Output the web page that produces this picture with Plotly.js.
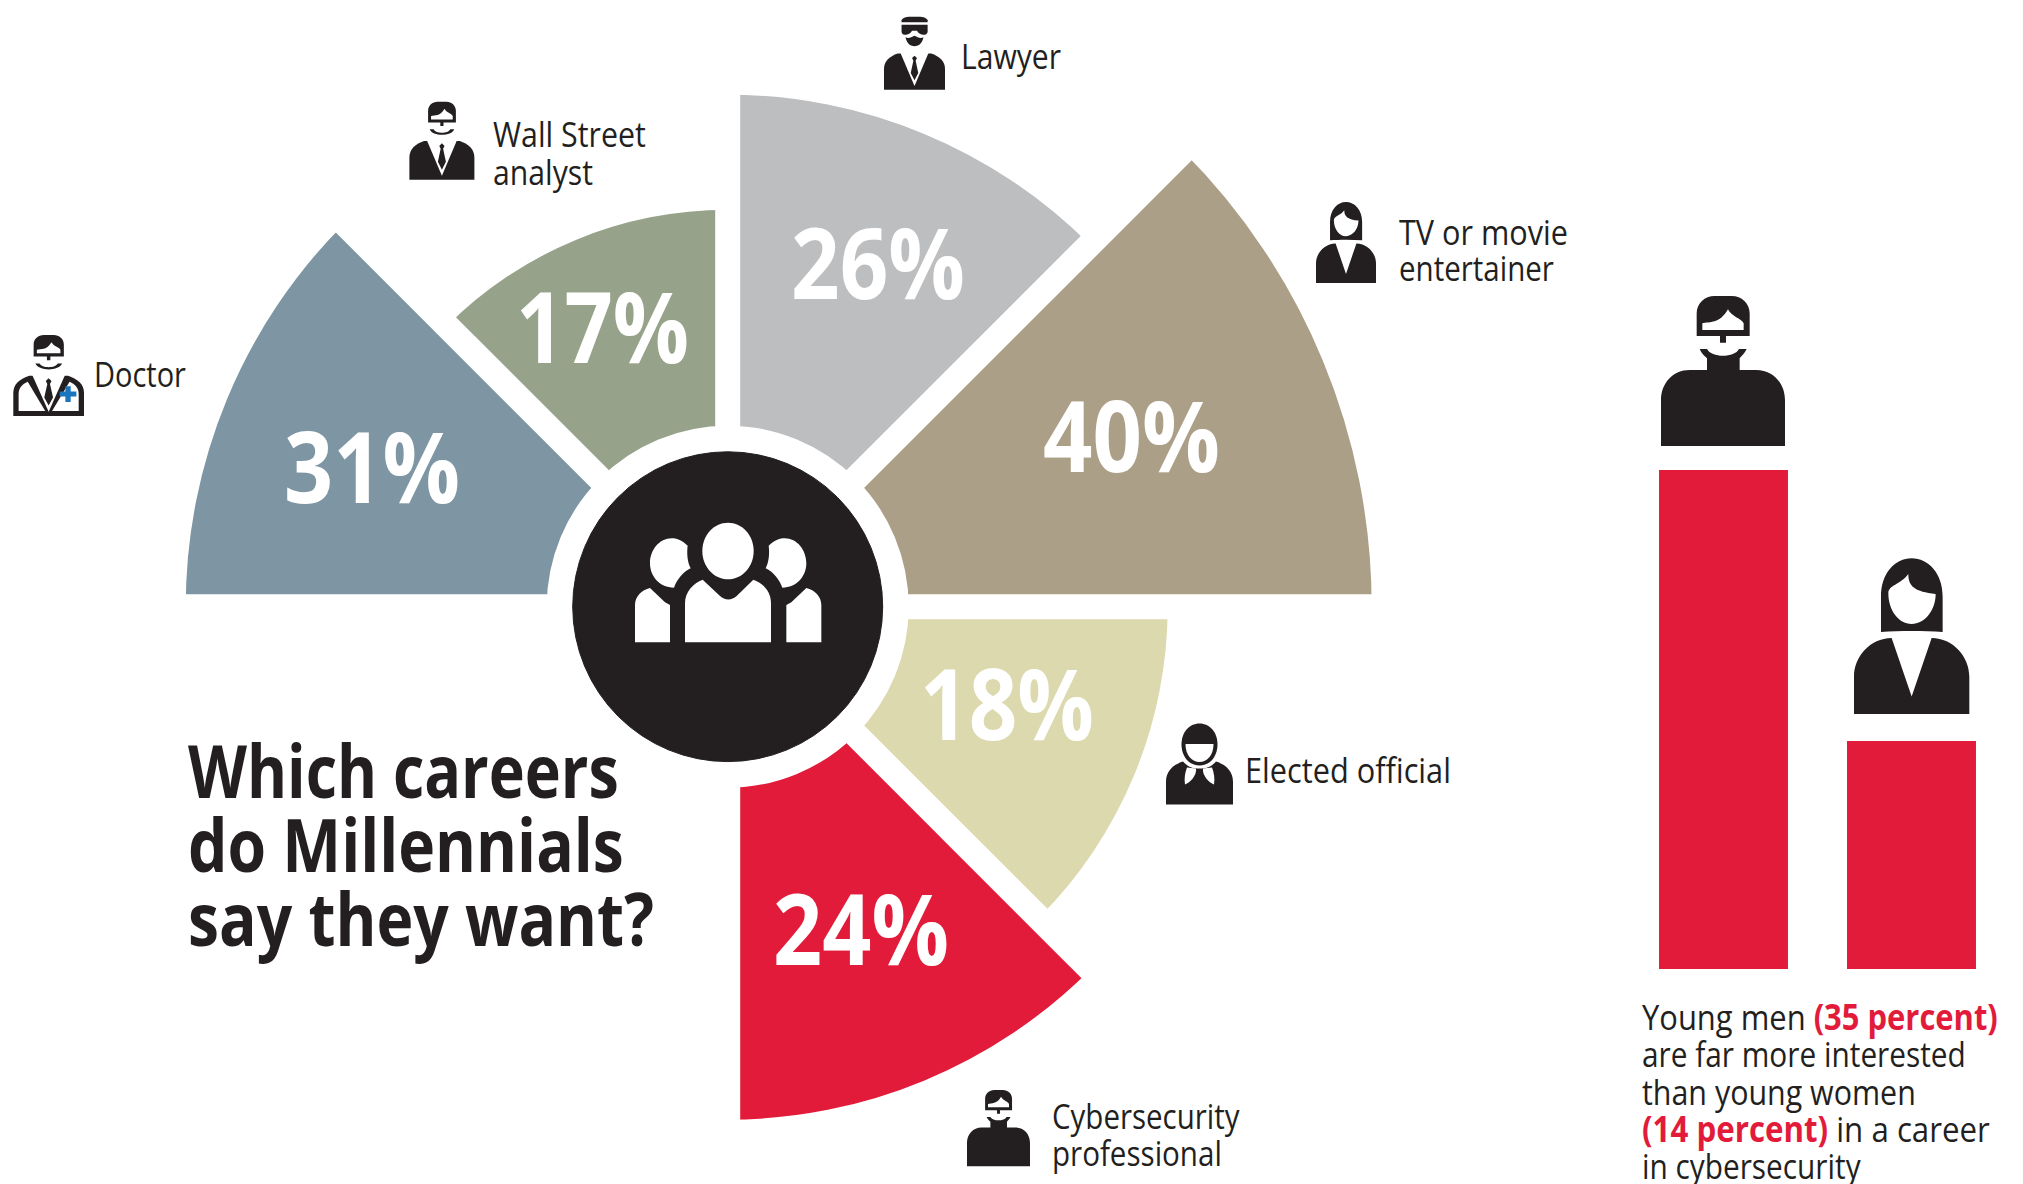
<!DOCTYPE html>
<html><head><meta charset="utf-8">
<script src="https://cdn.plot.ly/plotly-3.0.1.min.js"></script>
<style>html,body{margin:0;padding:0;background:#fff;overflow:hidden;width:2023px;height:1184px}
#c{position:absolute;left:0;top:-60px;width:2023px;height:1340px}</style>
</head><body><div id="c"></div>
<script>
// ---------- data ----------
const careers = ["Doctor","Wall Street analyst","Lawyer","TV or movie entertainer","Elected official","Cybersecurity professional"];
const careerPercent = [31,17,26,40,18,24];
const sectorAngle = [157.5,112.5,67.5,22.5,337.5,292.5];
const sectorReach = [542,397,512,644,440,513];   // drawn radius
const sectorColors = ["#7E96A3","#97A28A","#BCBEC0","#AB9F88","#DBD9AD","#E31B3A"];
const gapAngles = [180,135,90,45,0,315,270];
const genders = ["Young men","Young women"];
const genderBars = [35,16];                       // drawn height
const INK="#231F20", RED="#E31B3A", BLUE="#1B75BC", WHITE="#FFFFFF";
const LAB="Open Sans, Noto Sans, sans-serif";

// ---------- page mapping ----------
const W=2023,H=1340,TOP=60;
const cx=727.7,cy=606.7,RMAX=660,INNER=181,DISC=155,GAP=25;
const px=x=>x/W, py=y=>(H-(y+TOP))/H;

// ---------- icon glyphs (own coordinate systems) ----------
const HEAD="M231 198 L231 130 C231 100 255 78 285 78 L336 78 C366 78 390 100 390 130 L390 198 L319 198 L319 218 L301 218 L301 198 Z";
const VISOR="M248 180 L248 160 C270 155 300 162 325 118 C335 140 365 145 372 160 L372 180 Z";
const SMILE="M240 237 L262 237 C275 264 345 264 358 237 L381 237 C365 280 256 280 240 237 Z";
const NECKBODY="M240 237 L262 237 C275 264 345 264 358 237 L381 237 C375 250 365 258 360 265 L360 300 L410 300 C460 300 496 340 496 390 L496 528 L124 528 L124 390 C124 340 160 300 210 300 L262 300 L262 265 C255 258 245 250 240 237 Z";
const SUIT="M124 528 L124 400 C124 350 160 322 208 305 L412 305 C460 322 496 350 496 400 L496 528 Z";
const VEE="M222 296 L398 296 L310 505 Z";
const TIE="M310 318 L325 333 L317 350 L333 425 L310 470 L287 425 L303 350 L295 333 Z";
const COATL="M152 500 L152 404 C152 374 172 350 200 338 L292 500 Z";
const COATR="M468 500 L468 404 C468 374 448 350 420 338 L328 500 Z";
const PLUS="M368 392 L398 392 L398 362 L426 362 L426 392 L456 392 L456 420 L426 420 L426 450 L398 450 L398 420 L368 420 Z";
const LAWHAIR="M231 112 L231 100 C235 88 255 78 285 78 L336 78 C366 78 386 88 390 100 L390 112 Z";
const GLASS="M231 128 L390 128 L390 172 C385 198 340 195 325 165 L295 165 C280 195 235 198 231 172 Z";
const BEARD="M310 195 C330 205 345 215 365 205 C355 250 330 260 310 260 C290 260 265 250 255 205 C275 215 290 205 310 195 Z";
const W_HAIR="M783 1086 L783 980 C783 910 825 865 875 865 C925 865 968 910 968 980 L968 1086 C910 1082 840 1082 783 1086 Z";
const W_FACE="M805 970 C805 945 840 945 865 912 C865 950 885 965 947 972 C947 1020 915 1062 875 1062 C835 1062 805 1020 805 970 Z";
const W_BODY="M702 1332 L702 1220 C702 1160 750 1105 815 1104 L875 1280 L935 1104 C1000 1105 1048 1160 1048 1220 L1048 1332 Z";
const O_HEAD="M33.5 0 C44 0 51.5 9 51.5 21 C51.5 33 44 42 33.5 42 C23 42 15.5 33 15.5 21 C15.5 9 23 0 33.5 0 Z";
const O_FACE="M19.5 20.5 L47.5 20.5 C47.5 32 41 38.5 33.5 38.5 C26 38.5 19.5 32 19.5 20.5 Z";
const O_BODY="M0 81 L0 58 C0 48 7 41 17 38 C22 44 27 45 33.5 45 C40 45 45 44 50 38 C60 41 67 48 67 58 L67 81 Z";
const O_SC1="M30 45 C31 52 24 59 19 61 C18 55 19 49 21 44 Z";
const O_SC2="M37 45 C36 52 43 59 48 61 C49 55 48 49 46 44 Z";
const G_HEAD="M534 278 C577 278 611 316 611 363 C611 410 577 448 534 448 C491 448 457 410 457 363 C457 316 491 278 534 278 Z";
const G_BODY="M405 637 L405 520 C405 485 430 460 458 449 L510 498 C525 512 545 512 560 498 L610 449 C640 460 663 485 663 520 L663 637 Z";
const G_LH="M413 347 C395 330 378 325 365 325 C328 325 300 360 300 400 C300 440 330 473 372 473 C380 450 400 425 422 415 C412 395 410 370 413 347 Z";
const G_LB="M255 637 L255 525 C255 500 275 480 300 474 L345 517 L360 525 L360 637 Z";

function map(path,f){let i=0;return path.replace(/-?\d+(\.\d+)?/g,m=>{const v=+m,o=(i%2===0)?f.x(v):f.y(v);i++;return o.toFixed(5);});}
function shape(path,color,ox,oy,s,ax,ay,mirror,sy){
  const f={x:v=>px(ox+(mirror?-1:1)*(v-ax)*s),y:v=>py(oy+(v-ay)*(sy||s))};
  return {type:'path',xref:'paper',yref:'paper',path:map(path,f),fillcolor:color,line:{width:0},layer:'above'};
}
const shapes=[];
function manIcon(list,x,y,width,height){const s=width/372,sy=height?height/450:s;list.forEach(([p,c])=>shapes.push(shape(p,c,x,y,s,124,78,false,sy)));}
manIcon([[HEAD,INK],[VISOR,WHITE],[NECKBODY,INK]],1661,296,124);
function womanIcon(x,y,width){const s=width/346;[[W_HAIR,INK],[W_FACE,WHITE],[W_BODY,INK]].forEach(([p,c])=>shapes.push(shape(p,c,x,y,s,702,865)));}
womanIcon(1854,558.3,115.3);
womanIcon(1316,202,60);
manIcon([[HEAD,INK],[VISOR,WHITE],[NECKBODY,INK]],967,1090,63);
manIcon([[HEAD,INK],[VISOR,WHITE],[SMILE,INK],[SUIT,INK],[VEE,WHITE],[TIE,INK]],409.4,101.7,65,78);
manIcon([[HEAD,INK],[VISOR,WHITE],[SMILE,INK],[SUIT,INK],[VEE,WHITE],[COATL,WHITE],[COATR,WHITE],[TIE,INK],[PLUS,BLUE]],13.3,335,70.7,81);
manIcon([[LAWHAIR,INK],[GLASS,INK],[BEARD,INK],[SUIT,INK],[VEE,WHITE],[TIE,INK]],884,16.7,61,73);
[[O_HEAD,INK],[O_FACE,WHITE],[O_BODY,INK],[O_SC1,WHITE],[O_SC2,WHITE]].forEach(([p,c])=>shapes.push(shape(p,c,1166,723.5,1,0,0)));
[G_HEAD,G_BODY].forEach(p=>shapes.push(shape(p,WHITE,550+534/3,430,1/3,534,0)));
[G_LH,G_LB].forEach(p=>{
  shapes.push(shape(p,WHITE,550+534.5/3,430,1/3,534.5,0));
  shapes.push(shape(p,WHITE,550+534.5/3,430,1/3,534.5,0,true));
});

// ---------- text ----------
const anns=[], fitWidths=[];
function txt(text,x,base,size,width,color,weight){
  anns.push({text,xref:'paper',yref:'paper',x:px(x),y:py(base-0.345*size),xanchor:'left',yanchor:'middle',
    showarrow:false,borderpad:0,borderwidth:0,align:'left',font:{family:LAB,size,color:color||INK,weight:weight||400}});
  fitWidths.push(width);
}
const titleLines=["Which careers","do Millennials","say they want?"];
const titleBase=[794.2,868.2,942.5], titleW=[431,436,466];
titleLines.forEach((t,i)=>txt(t,188,titleBase[i],73,titleW[i],INK,700));
const pctX=[284,516,791,1043,920,773], pctBase=[499,359,295,468,736,961], pctW=[176,173,174,177,174,176];
careerPercent.forEach((v,i)=>txt(v+"%",pctX[i],pctBase[i],99,pctW[i],WHITE,700));
const labels=[["Wall Street",493,145.7,153],["analyst",493,184,100],["Doctor",94,386,92],["Lawyer",961,68,100],
  ["TV or movie",1399,244,169],["entertainer",1399,280,155],["Elected official",1245,782,206],["Cybersecurity",1052,1128,188],["professional",1052,1165,170]];
labels.forEach(([t,x,b,w])=>txt(t,x,b,35,w));
const rs=s=>'<span style="color:'+RED+'"><b>'+s+'</b></span>';
const note=["Young men "+rs("(35 percent)"),"are far more interested","than young women",rs("(14 percent)")+" in a career","in cybersecurity"];
const noteBase=[1029,1066,1104,1141,1178], noteW=[356,324,274,348,219];
note.forEach((t,i)=>txt(t,1642,noteBase[i],35,noteW[i]));

// ---------- traces ----------
const traces=[
 {type:'barpolar',r:sectorReach.map(v=>v-INNER),base:INNER,theta:sectorAngle,width:45,
  marker:{color:sectorColors,line:{width:0}},hoverinfo:'skip',customdata:careers},
 {type:'barpolar',r:[DISC,DISC],base:0,theta:[90,270],width:180,marker:{color:INK,line:{width:1,color:INK}},hoverinfo:'skip'}
];
gapAngles.forEach(a=>traces.push({type:'scatterpolar',mode:'lines',r:[INNER-12,RMAX],theta:[a,a],
  line:{color:WHITE,width:GAP},hoverinfo:'skip'}));
traces.push({type:'bar',x:genders,y:genderBars,width:0.686,marker:{color:RED,line:{width:0}},xaxis:'x',yaxis:'y',hoverinfo:'skip'});

const layout={
 width:W,height:H,margin:{l:0,r:0,t:0,b:0},paper_bgcolor:WHITE,plot_bgcolor:'rgba(0,0,0,0)',showlegend:false,
 polar:{domain:{x:[px(cx-RMAX),px(cx+RMAX)],y:[py(cy+RMAX),py(cy-RMAX)]},bgcolor:'rgba(0,0,0,0)',
  radialaxis:{visible:false,range:[0,RMAX]},angularaxis:{visible:false,direction:'counterclockwise',rotation:0}},
 xaxis:{visible:false,type:'category',range:[-0.5,1.5],domain:[px(1629.5),px(2005.5)],fixedrange:true},
 yaxis:{visible:false,range:[0,35],domain:[py(969),py(470)],fixedrange:true},
 shapes,annotations:anns
};
Plotly.newPlot('c',traces,layout,{displayModeBar:false,staticPlot:true}).then(gd=>{
  // condense each line of real text to the reference's narrow letterforms
  gd.querySelectorAll('.annotation').forEach(a=>{
    const i=+a.getAttribute('data-index'), t=a.querySelector('text.annotation-text');
    if(!t||!fitWidths[i])return;
    const b=t.getBBox(), s=fitWidths[i]/b.width;
    t.setAttribute('transform','translate('+b.x+',0) scale('+s+',1) translate('+(-b.x)+',0)');
  });
});
</script></body></html>
